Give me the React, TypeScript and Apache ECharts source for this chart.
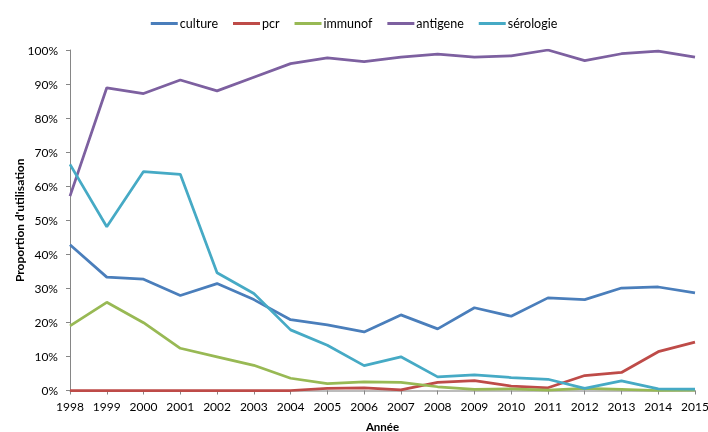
import React, { useEffect, useRef } from "react";
import * as echarts from "echarts";

const years = ["1998","1999","2000","2001","2002","2003","2004","2005","2006","2007","2008","2009","2010","2011","2012","2013","2014","2015"];
const culture = [42.8,33.3,32.7,27.9,31.4,26.7,20.8,19.3,17.2,22.2,18.1,24.3,21.8,27.2,26.7,30.1,30.4,28.7];
const pcr = [0,0,0,0,0,0,0,0.6,0.8,0.2,2.4,2.9,1.3,0.8,4.4,5.3,11.4,14.2];
const immunof = [19.0,25.9,19.9,12.4,9.9,7.4,3.6,2.0,2.5,2.4,1.1,0.35,0.5,0.1,0.6,0.3,0.0,0.1];
const antigene = [57.1,88.9,87.2,91.2,88.0,92.0,96.0,97.7,96.6,97.9,98.8,97.9,98.3,100,96.9,98.9,99.7,97.9];
const serologie = [66.4,48.1,64.3,63.5,34.6,28.5,17.8,13.3,7.3,9.9,4.0,4.6,3.8,3.3,0.6,2.8,0.5,0.4];

const names = ["culture","pcr","immunof","antigene","sérologie"];
const colors = ["#4A7EBB","#BE4B48","#98B954","#7D60A0","#46AAC5"];
const values = [culture, pcr, immunof, antigene, serologie];

const FONT = "Lato, 'Open Sans', sans-serif";

export default function App() {
  const ref = useRef<HTMLDivElement>(null);
  useEffect(() => {
    if (!ref.current) return;
    const chart = echarts.init(ref.current, null, { renderer: "svg" });
    chart.setOption({
      animation: false,
      textStyle: { fontFamily: FONT },
      legend: {
        top: 12,
        left: "center",
        icon: "rect",
        itemWidth: 27,
        itemHeight: 3,
        itemGap: 15,
        textStyle: { fontSize: 12.5, color: "#000", fontFamily: FONT, padding: [0, 0, 0, -3] },
        data: names,
      },
      grid: { left: 70, right: 13, top: 50, bottom: 41.5, containLabel: false, outerBoundsMode: "none" },
      xAxis: {
        type: "category",
        data: years,
        boundaryGap: false,
        name: "Année",
        nameLocation: "middle",
        nameGap: 30,
        nameMoveOverlap: false,
        nameTextStyle: { fontWeight: "bold", fontSize: 11.5, color: "#000", fontFamily: FONT },
        axisLine: { lineStyle: { color: "#A6A6A6", width: 1.5 } },
        axisTick: { show: true, alignWithLabel: true, length: 4, lineStyle: { color: "#868686" } },
        axisLabel: { color: "#000", fontSize: 12, margin: 10, interval: 0, fontFamily: FONT },
        splitLine: { show: false },
      },
      yAxis: {
        type: "value",
        min: 0,
        max: 100,
        interval: 10,
        name: "Proportion d'utilisation",
        nameLocation: "middle",
        nameGap: 45,
        nameMoveOverlap: false,
        nameTextStyle: { fontWeight: "bold", fontSize: 12, color: "#000", fontFamily: FONT },
        axisLine: { show: true, lineStyle: { color: "#868686", width: 1 } },
        axisTick: { show: true, length: 4, lineStyle: { color: "#868686" } },
        axisLabel: { color: "#000", fontSize: 12, margin: 12, formatter: "{value}%", fontFamily: FONT },
        splitLine: { show: false },
      },
      series: names.map((n, i) => ({
        name: n,
        type: "line",
        data: values[i],
        symbol: "none",
        color: colors[i],
        lineStyle: { color: colors[i], width: 2.75 },
        itemStyle: { color: colors[i] },
      })),
    });
    return () => chart.dispose();
  }, []);
  return <div ref={ref} style={{ position: "fixed", left: 0, top: 0, width: 708, height: 432 }} />;
}
